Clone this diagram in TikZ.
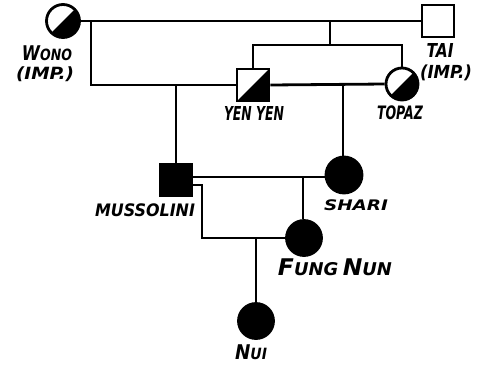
\documentclass[tikz,border=0pt]{standalone}
\usepackage{graphicx}
\usepackage{fontspec}
\setmainfont{DejaVu Sans}
\newcommand{\pedsm}[1]{{\fontsize{13}{13}\selectfont\bfseries\itshape #1}}
\newcommand{\pedbg}[1]{{\fontsize{17}{17}\selectfont\bfseries\itshape #1}}
\newcommand{\pedfit}[3]{\resizebox*{#1pt}{#2pt}{#3}}
\begin{document}
\begin{tikzpicture}[x=1pt,y=-1pt,
  lw/.style={line width=2.8pt},
  fem/.style={circle,draw,lw,minimum size=33pt,inner sep=0pt},
  mal/.style={rectangle,draw,lw,minimum size=32pt,inner sep=0pt},
  half/.style={path picture={\fill[black] (path picture bounding box.north east) -- (path picture bounding box.south west) -- (path picture bounding box.south east) -- cycle;}},
  aff/.style={fill=black},
  link/.style={lw},
  txt/.style={inner sep=0pt}]
\useasboundingbox (0,0) rectangle (482,365);
% nodes
\node[fem,half] (wono) at (63,21) {};
\node[mal] (tai) at (438,21) {};
\node[mal,half] (yen) at (253,85) {};
\node[fem,half,minimum size=32pt] (topaz) at (402,84) {};
\node[mal,aff] (muss) at (176,180) {};
\node[fem,aff,minimum size=36pt] (shari) at (344,175) {};
\node[fem,aff,minimum size=35pt] (fung) at (304,238) {};
\node[fem,aff,minimum size=35pt] (nui) at (256,321) {};
% coordinates
\coordinate (wt) at (330,21);
\coordinate (sib) at (330,45);
\coordinate (wy) at (91,21);
\coordinate (yt) at (343,85);
\coordinate (ms) at (303,177);
\coordinate (mf) at (202,238);
\coordinate (mfn) at (256,238);
% connectors
\draw[link] (wono) -- (tai);
\draw[link] (wt) -- (sib);
\draw[link] (yen.north) |- (sib) -| (topaz.north);
\draw[link] (wy) |- (yen.west);
\draw[link] (yen.east) -- (topaz.west);
\draw[link] (muss.north) -- (muss.north |- yen.west);
\draw[link] (yt) -- (yt |- shari.north);
\draw[link] (ms -| muss.east) -- (ms -| shari.west);
\draw[link] (ms) -- (ms |- fung.north);
\draw[link] ([yshift=-5pt]muss.east) -| (mf) -- (fung.west);
\draw[link] (mfn) -- (nui.north);
% labels
\node[txt] (lw1) at (47,53) {\pedfit{50}{15}{\pedbg{W}\pedsm{ONO}}};
\node[txt] (lw2) at (45,74) {\pedfit{58}{15}{\pedsm{(IMP.)}}};
\node[txt] (lt1) at (440,50) {\pedfit{27}{14}{\pedsm{TAI}}};
\node[txt] (lt2) at (446,73) {\pedfit{52}{16}{\pedsm{(IMP.)}}};
\node[txt] (ly) at (254,113) {\pedfit{60}{14}{\pedsm{YEN YEN}}};
\node[txt] (lp) at (400,113) {\pedfit{46}{14}{\pedsm{TOPAZ}}};
\node[txt] (lm) at (145,210) {\pedfit{100}{13}{\pedsm{MUSSOLINI}}};
\node[txt] (ls) at (356,205) {\pedfit{64}{11}{\pedsm{SHARI}}};
\node[txt] (lf) at (335,267) {\pedfit{114}{17}{\pedbg{F}\pedsm{UNG} \pedbg{N}\pedsm{UN}}};
\node[txt] (ln) at (251,352) {\pedfit{32}{15}{\pedbg{N}\pedsm{UI}}};
\end{tikzpicture}
\end{document}
